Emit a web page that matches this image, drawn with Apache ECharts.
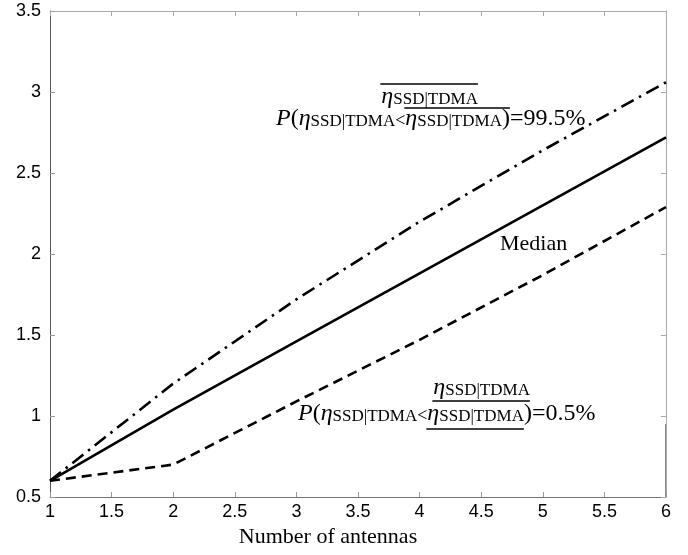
<!DOCTYPE html>
<html><head><meta charset="utf-8">
<script src="https://cdn.jsdelivr.net/npm/echarts@6/dist/echarts.min.js"></script>
<style>html,body{margin:0;padding:0;background:#fff}#c{width:688px;height:555px}</style>
</head><body><div id="c"></div>
<script>
// ---- data ----
const antennas = [1, 2, 3, 4, 5, 6];
const median   = [0.6, 1.04, 1.46, 1.88, 2.30, 2.72];
const upper995 = [0.6, 1.20, 1.72, 2.20, 2.64, 3.06];
const lower005 = [0.6, 0.70, 1.09, 1.47, 1.87, 2.29];
const xName = 'Number of antennas';
const medianLabel = 'Median';
const subText = 'SSD|TDMA';

const SERIF = "'Liberation Serif','Times New Roman',serif";
const SANS = "'Liberation Sans',Arial,sans-serif";

const pairs = ys => antennas.map((x, i) => [x, ys[i]]);

// text measuring for the annotation formulas
const mctx = document.createElement('canvas').getContext('2d');
function fontOf(p){ return (p.it ? 'italic ' : '') + p.fs + 'px ' + SERIF; }
function tw(p){ mctx.font = fontOf(p); return mctx.measureText(p.t).width; }

// a run of text pieces on one baseline, with an over/under line on the marked pieces
function formula(x0, base, parts, markType, markOff) {
  const els = [];
  let cur = 0, m1 = null, m2 = null;
  parts.forEach(p => {
    const w = tw(p);
    els.push({
      type: 'text', x: x0 + cur, y: base - 0.34 * p.fs,
      style: { text: p.t, font: fontOf(p), fill: '#000', textAlign: 'left', textVerticalAlign: 'middle' },
      silent: true
    });
    if (p.mark) { if (m1 === null) m1 = cur; m2 = cur + w; }
    cur += w;
  });
  if (m1 !== null) {
    const ly = markType === 'over' ? base - markOff : base + markOff;
    els.push({ type: 'line', silent: true,
      shape: { x1: x0 + m1 - 1, y1: ly, x2: x0 + m2, y2: ly },
      style: { stroke: '#000', lineWidth: 1.3 } });
  }
  return { els, width: cur, m1: x0 + (m1 || 0) };
}

const BIG = 24, SMALL = 17, LT = 18;
const upL2 = formula(276, 127, [
  {t:'P', fs:BIG, it:true}, {t:'(', fs:BIG}, {t:'η', fs:BIG, it:true}, {t:subText, fs:SMALL},
  {t:'<', fs:LT}, {t:'η', fs:BIG, it:true, mark:true}, {t:subText, fs:SMALL, mark:true},
  {t:')', fs:BIG, mark:true}, {t:'=99.5%', fs:BIG}
], 'over', 19);
const upL1 = formula(upL2.m1 - 24, 105, [
  {t:'η', fs:BIG, it:true, mark:true}, {t:subText, fs:SMALL, mark:true}
], 'over', 21);
const loL2 = formula(298, 422, [
  {t:'P', fs:BIG, it:true}, {t:'(', fs:BIG}, {t:'η', fs:BIG, it:true}, {t:subText, fs:SMALL},
  {t:'<', fs:LT}, {t:'η', fs:BIG, it:true, mark:true}, {t:subText, fs:SMALL, mark:true},
  {t:')', fs:BIG}, {t:'=0.5%', fs:BIG}
], 'under', 7);
const loL1 = formula(loL2.m1 + 6, 396, [
  {t:'η', fs:BIG, it:true, mark:true}, {t:subText, fs:SMALL, mark:true}
], 'under', 5);

const chart = echarts.init(document.getElementById('c'), null, {renderer: 'canvas'});
const lineBase = { type: 'line', showSymbol: false, symbol: 'none', silent: true, animation: false };

chart.setOption({
  backgroundColor: '#fff',
  animation: false,
  grid: { left: 50, right: 22, top: 11, bottom: 58, containLabel: false },
  xAxis: [{
    type: 'value', min: 1, max: 6, interval: 0.5,
    name: xName, nameLocation: 'middle', nameGap: 26,
    nameTextStyle: { fontFamily: SERIF, fontSize: 22, color: '#000', padding: [0, 60, 0, 0] },
    axisLine: { show: true, lineStyle: { color: '#777', width: 1 } },
    axisTick: { show: true, inside: true, length: 5, lineStyle: { color: '#999' } },
    axisLabel: { fontFamily: SANS, fontSize: 18, color: '#000', margin: 6 },
    splitLine: { show: false }
  }, {
    type: 'value', min: 1, max: 6, interval: 0.5, position: 'top',
    axisLine: { show: true, lineStyle: { color: '#aaa', width: 1 } },
    axisTick: { show: true, inside: true, length: 5, lineStyle: { color: '#aaa' } },
    axisLabel: { show: false }, splitLine: { show: false }
  }],
  yAxis: [{
    type: 'value', min: 0.5, max: 3.5, interval: 0.5,
    axisLine: { show: true, lineStyle: { color: '#555', width: 1 } },
    axisTick: { show: true, inside: true, length: 5, lineStyle: { color: '#999' } },
    axisLabel: { fontFamily: SANS, fontSize: 18, color: '#000', margin: 9 },
    splitLine: { show: false }
  }, {
    type: 'value', min: 0.5, max: 3.5, interval: 0.5, position: 'right',
    axisLine: { show: true, lineStyle: { color: '#aaa', width: 1 } },
    axisTick: { show: true, inside: true, length: 5, lineStyle: { color: '#aaa' } },
    axisLabel: { show: false }, splitLine: { show: false }
  }],
  series: [
    Object.assign({}, lineBase, { name: 'upper', data: pairs(upper995),
      lineStyle: { color: '#000', width: 2.6, type: [14, 6, 2.5, 6], cap: 'butt' } }),
    Object.assign({}, lineBase, { name: 'median', data: pairs(median),
      lineStyle: { color: '#000', width: 2.6, type: 'solid' } }),
    Object.assign({}, lineBase, { name: 'lower', data: pairs(lower005),
      lineStyle: { color: '#000', width: 2.6, type: [10, 6], cap: 'butt' } })
  ],
  graphic: [
    { type: 'text', x: 500, y: 252 - 0.34 * 22, silent: true,
      style: { text: medianLabel, font: '22px ' + SERIF, fill: '#000', textAlign: 'left', textVerticalAlign: 'middle' } },
    { type: 'line', silent: true, shape: { x1: 666, y1: 424, x2: 666, y2: 497 },
      style: { stroke: '#666', lineWidth: 1.5 } }
  ].concat(upL2.els, upL1.els, loL2.els, loL1.els)
});
</script></body></html>
